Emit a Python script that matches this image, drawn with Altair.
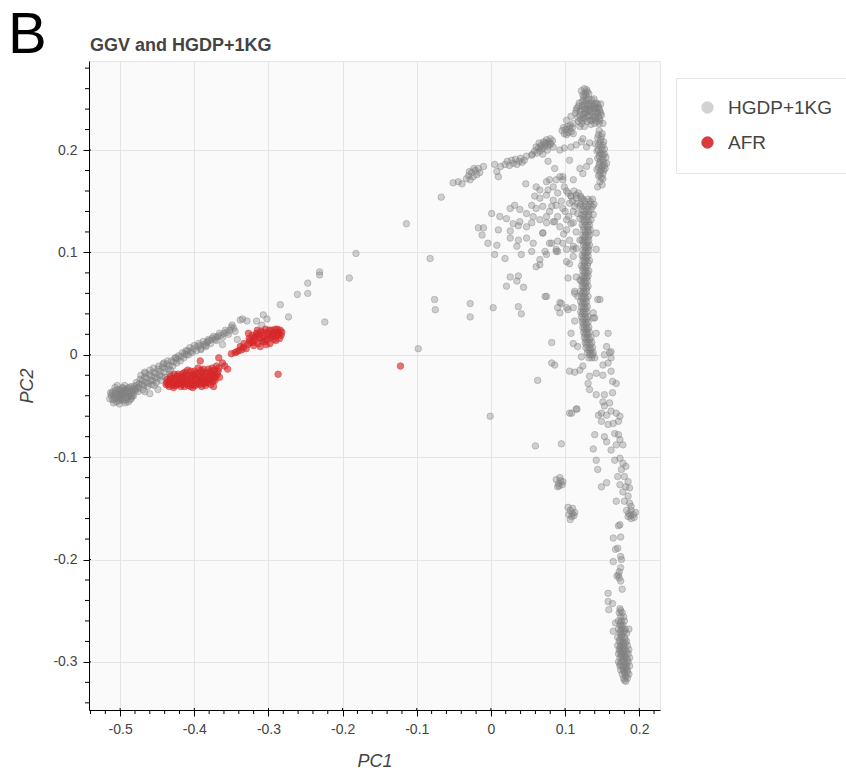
import altair as alt
import pandas as pd

# ---------------- data: (PC1, PC2) pairs per region of the projection ----------------

# HGDP+1KG reference samples
GRAY_AFRICA_CORE = [
    (-0.512, -0.040), (-0.510, -0.036), (-0.508, -0.043), (-0.506, -0.038), (-0.505, -0.046),
    (-0.503, -0.034), (-0.502, -0.041), (-0.500, -0.037), (-0.499, -0.044), (-0.497, -0.032),
    (-0.496, -0.040), (-0.494, -0.036), (-0.493, -0.047), (-0.491, -0.042), (-0.490, -0.033),
    (-0.488, -0.038), (-0.487, -0.044), (-0.485, -0.031), (-0.484, -0.036), (-0.482, -0.040),
    (-0.480, -0.034), (-0.514, -0.043), (-0.509, -0.047), (-0.504, -0.030), (-0.501, -0.048),
    (-0.498, -0.035), (-0.495, -0.045), (-0.492, -0.038), (-0.489, -0.046), (-0.486, -0.040),
    (-0.483, -0.033), (-0.478, -0.030), (-0.476, -0.036), (-0.507, -0.032), (-0.500, -0.042),
    (-0.494, -0.030), (-0.511, -0.038), (-0.508, -0.040), (-0.505, -0.042), (-0.503, -0.038),
    (-0.501, -0.035), (-0.499, -0.040), (-0.497, -0.043), (-0.495, -0.038), (-0.493, -0.034),
    (-0.491, -0.036), (-0.489, -0.041), (-0.487, -0.035), (-0.485, -0.043), (-0.483, -0.038),
    (-0.481, -0.031), (-0.479, -0.035), (-0.506, -0.035), (-0.502, -0.045), (-0.498, -0.038),
    (-0.496, -0.033), (-0.492, -0.044), (-0.488, -0.032), (-0.484, -0.041), (-0.510, -0.044),
    (-0.513, -0.037),
]

GRAY_AFRICA_BAND = [
    (-0.478, -0.027), (-0.475, -0.032), (-0.473, -0.024), (-0.471, -0.029), (-0.469, -0.034),
    (-0.467, -0.022), (-0.465, -0.027), (-0.463, -0.031), (-0.461, -0.019), (-0.459, -0.025),
    (-0.457, -0.029), (-0.455, -0.017), (-0.453, -0.022), (-0.451, -0.027), (-0.449, -0.014),
    (-0.447, -0.020), (-0.445, -0.025), (-0.443, -0.012), (-0.441, -0.017), (-0.439, -0.022),
    (-0.437, -0.009), (-0.435, -0.014), (-0.433, -0.019), (-0.431, -0.006), (-0.429, -0.011),
    (-0.426, -0.003), (-0.424, -0.008), (-0.421, -0.001), (-0.419, -0.006), (-0.416, 0.002),
    (-0.414, -0.003), (-0.411, 0.004), (-0.408, 0.000), (-0.406, 0.007), (-0.403, 0.002),
    (-0.400, 0.009), (-0.397, 0.004), (-0.394, 0.011), (-0.391, 0.006), (-0.388, 0.013),
    (-0.385, 0.009), (-0.381, 0.015), (-0.378, 0.011), (-0.374, 0.018), (-0.370, 0.014),
    (-0.366, 0.021), (-0.362, 0.017), (-0.358, 0.024), (-0.354, 0.020), (-0.350, 0.027),
    (-0.345, 0.023), (-0.467, -0.017), (-0.455, -0.013), (-0.441, -0.008), (-0.425, -0.003),
    (-0.411, 0.000), (-0.391, 0.005), (-0.449, -0.034), (-0.467, -0.036), (-0.460, -0.038),
    (-0.477, -0.033), (-0.474, -0.028), (-0.472, -0.020), (-0.470, -0.025), (-0.468, -0.030),
    (-0.466, -0.018), (-0.464, -0.023), (-0.462, -0.028), (-0.460, -0.015), (-0.458, -0.021),
    (-0.456, -0.025), (-0.454, -0.030), (-0.452, -0.018), (-0.450, -0.023), (-0.448, -0.011),
    (-0.446, -0.016), (-0.444, -0.021), (-0.442, -0.009), (-0.440, -0.013), (-0.436, -0.006),
    (-0.434, -0.011), (-0.432, -0.015), (-0.428, -0.007), (-0.423, -0.004), (-0.418, -0.002),
    (-0.413, 0.001), (-0.409, 0.004), (-0.405, 0.003), (-0.401, 0.006), (-0.396, 0.008),
    (-0.392, 0.009), (-0.387, 0.010), (-0.383, 0.012), (-0.379, 0.014), (-0.376, 0.016),
    (-0.372, 0.015), (-0.368, 0.018), (-0.364, 0.019), (-0.360, 0.021), (-0.356, 0.022),
    (-0.352, 0.024), (-0.347, 0.026),
]

GRAY_ARM_SPARSE = [
    (-0.362, 0.010), (-0.371, 0.017), (-0.382, 0.013), (-0.384, 0.008), (-0.342, 0.015),
    (-0.349, 0.029), (-0.338, 0.034), (-0.329, 0.033), (-0.316, 0.033), (-0.307, 0.039),
    (-0.309, 0.029), (-0.335, 0.035), (-0.302, 0.035), (-0.284, 0.049), (-0.273, 0.037),
    (-0.261, 0.059), (-0.247, 0.070), (-0.247, 0.060), (-0.231, 0.081), (-0.231, 0.078),
    (-0.224, 0.032), (-0.191, 0.075), (-0.182, 0.099), (-0.114, 0.128), (-0.067, 0.154),
    (-0.082, 0.094), (-0.076, 0.054), (-0.075, 0.044), (-0.028, 0.050), (-0.028, 0.037),
    (-0.098, 0.006), (-0.001, -0.060),
]

GRAY_TOP_BLOB = [
    (0.122, 0.258), (0.126, 0.260), (0.130, 0.257), (0.124, 0.254), (0.128, 0.253), (0.132, 0.255),
    (0.114, 0.236), (0.116, 0.241), (0.117, 0.232), (0.119, 0.246), (0.120, 0.238), (0.121, 0.230),
    (0.123, 0.243), (0.124, 0.235), (0.125, 0.249), (0.126, 0.240), (0.127, 0.231), (0.128, 0.246),
    (0.129, 0.237), (0.130, 0.228), (0.131, 0.243), (0.132, 0.250), (0.133, 0.234), (0.134, 0.240),
    (0.135, 0.246), (0.136, 0.229), (0.137, 0.237), (0.138, 0.243), (0.139, 0.250), (0.140, 0.233),
    (0.141, 0.240), (0.142, 0.246), (0.143, 0.228), (0.144, 0.236), (0.145, 0.242), (0.146, 0.231),
    (0.147, 0.238), (0.148, 0.245), (0.149, 0.234), (0.118, 0.228), (0.122, 0.226), (0.135, 0.225),
    (0.140, 0.226), (0.146, 0.226), (0.127, 0.236), (0.131, 0.239), (0.138, 0.231), (0.143, 0.241),
    (0.124, 0.229), (0.102, 0.229), (0.111, 0.226), (0.120, 0.223), (0.126, 0.223), (0.151, 0.226),
    (0.108, 0.233),
    (0.115, 0.239), (0.118, 0.243), (0.120, 0.234), (0.122, 0.240), (0.123, 0.247), (0.125, 0.232),
    (0.126, 0.244), (0.128, 0.240), (0.129, 0.249), (0.130, 0.233), (0.132, 0.245), (0.133, 0.238),
    (0.134, 0.229), (0.135, 0.243), (0.136, 0.249), (0.137, 0.233), (0.139, 0.240), (0.140, 0.245),
    (0.141, 0.230), (0.142, 0.237), (0.144, 0.245), (0.145, 0.233), (0.146, 0.240), (0.148, 0.236),
    (0.147, 0.229), (0.127, 0.256), (0.125, 0.252), (0.129, 0.259),
]

GRAY_TOP_SIDE = [
    (0.096, 0.219), (0.098, 0.222), (0.099, 0.216), (0.101, 0.220), (0.103, 0.223), (0.104, 0.217),
    (0.106, 0.221), (0.108, 0.218), (0.110, 0.222), (0.111, 0.216), (0.107, 0.224), (0.102, 0.215),
    (0.146, 0.219), (0.150, 0.216), (0.144, 0.212), (0.148, 0.210), (0.152, 0.208), (0.145, 0.205),
    (0.149, 0.203), (0.153, 0.201), (0.143, 0.199), (0.147, 0.197), (0.151, 0.195), (0.155, 0.193),
    (0.144, 0.192), (0.148, 0.190), (0.152, 0.188), (0.146, 0.186), (0.150, 0.184), (0.154, 0.182),
    (0.143, 0.181), (0.147, 0.179), (0.151, 0.177), (0.145, 0.175), (0.149, 0.173), (0.153, 0.196),
    (0.141, 0.206), (0.150, 0.200), (0.146, 0.194), (0.152, 0.180), (0.156, 0.187), (0.147, 0.169),
    (0.150, 0.166), (0.144, 0.164),
    (0.145, 0.215), (0.149, 0.213), (0.147, 0.207), (0.151, 0.205), (0.145, 0.200), (0.149, 0.196),
    (0.147, 0.188), (0.151, 0.191), (0.145, 0.183), (0.149, 0.181), (0.147, 0.176), (0.151, 0.172),
    (0.153, 0.185),
]

GRAY_UPPER_CHAIN = [
    (0.056, 0.196), (0.059, 0.199), (0.062, 0.197), (0.064, 0.202), (0.066, 0.199), (0.068, 0.205),
    (0.069, 0.201), (0.071, 0.208), (0.072, 0.203), (0.074, 0.206), (0.075, 0.210), (0.077, 0.204),
    (0.078, 0.208), (0.080, 0.211), (0.081, 0.206), (0.083, 0.209), (0.065, 0.207), (0.061, 0.203),
    (0.070, 0.196), (0.076, 0.200), (0.084, 0.203), (0.093, 0.200), (0.099, 0.202), (0.108, 0.203),
    (0.115, 0.205), (0.122, 0.208), (0.124, 0.211), (0.129, 0.203), (0.133, 0.207),
    (0.073, 0.207), (0.079, 0.206), (0.067, 0.203),
    (0.019, 0.186), (0.022, 0.189), (0.025, 0.185), (0.028, 0.190), (0.030, 0.187), (0.033, 0.191),
    (0.035, 0.186), (0.038, 0.189), (0.040, 0.192), (0.042, 0.188), (0.048, 0.194), (0.055, 0.195),
    (0.045, 0.190),
    (-0.033, 0.172), (-0.030, 0.175), (-0.028, 0.171), (-0.026, 0.178), (-0.024, 0.174),
    (-0.021, 0.180), (-0.019, 0.176), (-0.017, 0.182), (-0.015, 0.178), (-0.023, 0.182),
    (-0.029, 0.179), (-0.051, 0.168), (-0.039, 0.167), (-0.044, 0.169), (-0.010, 0.184),
    (0.008, 0.179), (0.010, 0.174), (0.005, 0.186), (0.013, 0.184),
]

GRAY_MIDDLE = [
    (0.047, 0.167), (0.061, 0.164), (0.066, 0.161), (0.075, 0.169), (0.077, 0.161), (0.084, 0.164),
    (0.088, 0.171), (0.093, 0.174), (0.097, 0.171), (0.099, 0.164),
    (0.059, 0.155), (0.066, 0.153), (0.075, 0.156), (0.084, 0.151), (0.090, 0.158), (0.102, 0.160),
    (0.108, 0.155), (0.115, 0.156), (0.122, 0.153),
    (0.055, 0.146), (0.061, 0.143), (0.070, 0.145), (0.079, 0.140), (0.088, 0.146), (0.097, 0.143),
    (0.106, 0.148), (0.111, 0.140), (0.120, 0.145),
    (0.026, 0.143), (0.032, 0.146), (0.039, 0.142), (0.048, 0.138), (0.057, 0.135), (0.066, 0.132),
    (0.075, 0.135), (0.084, 0.130), (0.093, 0.125), (0.102, 0.132), (0.111, 0.129), (0.120, 0.133),
    (0.102, 0.122),
    (0.001, 0.138), (0.012, 0.135), (0.021, 0.133), (0.030, 0.128), (0.039, 0.130), (0.048, 0.125),
    (0.055, 0.129),
    (-0.017, 0.124), (-0.010, 0.124), (-0.012, 0.117), (-0.004, 0.109), (0.008, 0.107), (0.010, 0.122),
    (0.026, 0.121), (0.037, 0.126), (0.026, 0.114), (0.037, 0.112), (0.048, 0.114), (0.057, 0.109),
    (0.070, 0.119), (0.079, 0.109), (0.088, 0.103), (0.097, 0.109), (0.106, 0.112), (0.111, 0.106),
    (0.120, 0.112),
    (0.005, 0.098), (0.019, 0.094), (0.035, 0.106), (0.041, 0.098), (0.055, 0.101), (0.066, 0.093),
    (0.075, 0.098), (0.088, 0.101), (0.102, 0.103), (0.111, 0.096), (0.066, 0.088), (0.061, 0.086),
    (0.026, 0.076), (0.037, 0.077), (0.035, 0.072), (0.044, 0.066), (0.021, 0.067), (0.075, 0.057),
    (0.102, 0.091),
    (0.095, 0.150), (0.100, 0.140), (0.105, 0.135), (0.113, 0.145), (0.117, 0.138), (0.108, 0.128),
    (0.115, 0.120), (0.098, 0.118), (0.090, 0.135), (0.082, 0.145),
    (0.077, 0.189), (0.086, 0.182), (0.106, 0.190), (0.120, 0.182), (0.124, 0.177), (0.133, 0.189),
    (0.129, 0.184), (0.097, 0.174), (0.111, 0.171), (0.079, 0.171),
    (0.070, 0.119), (0.075, 0.129), (0.086, 0.130), (0.082, 0.109), (0.090, 0.111), (0.090, 0.101),
    (0.073, 0.101), (0.111, 0.103), (0.115, 0.104), (0.106, 0.089), (0.104, 0.075), (0.115, 0.076),
    (0.113, 0.062), (0.117, 0.057), (0.120, 0.073), (0.073, 0.057), (0.090, 0.046), (0.095, 0.050),
    (0.093, 0.041), (0.102, 0.046), (0.111, 0.046), (0.113, 0.033), (0.108, 0.021), (0.082, 0.012),
    (0.111, 0.011), (0.117, 0.008), (0.122, -0.002),
    (0.003, 0.046), (0.037, 0.047), (0.041, 0.040), (0.093, 0.051), (0.104, 0.044), (0.113, 0.060),
    (0.063, -0.025), (0.060, -0.089), (0.095, -0.087), (0.106, -0.057), (0.116, -0.053),
    (0.082, -0.008), (0.086, -0.010), (0.106, -0.016), (0.113, -0.017), (0.120, -0.015),
    (0.124, -0.011),
]

GRAY_STREAM = [
    (0.124, 0.152), (0.131, 0.152), (0.137, 0.152),
    (0.121, 0.147), (0.128, 0.147), (0.134, 0.147), (0.139, 0.147),
    (0.123, 0.142), (0.129, 0.142), (0.135, 0.142),
    (0.122, 0.137), (0.127, 0.137), (0.132, 0.137), (0.138, 0.137),
    (0.124, 0.132), (0.129, 0.132), (0.135, 0.132),
    (0.123, 0.127), (0.128, 0.127), (0.133, 0.127),
    (0.125, 0.122), (0.130, 0.122), (0.134, 0.122),
    (0.124, 0.117), (0.128, 0.117), (0.133, 0.117),
    (0.123, 0.112), (0.127, 0.112), (0.132, 0.112),
    (0.125, 0.107), (0.129, 0.107), (0.133, 0.107),
    (0.124, 0.102), (0.128, 0.102), (0.132, 0.102),
    (0.123, 0.097), (0.127, 0.097), (0.131, 0.097),
    (0.124, 0.092), (0.128, 0.092), (0.133, 0.092),
    (0.122, 0.087), (0.126, 0.087), (0.130, 0.087),
    (0.124, 0.082), (0.128, 0.082), (0.132, 0.082),
    (0.123, 0.077), (0.127, 0.077), (0.131, 0.077),
    (0.122, 0.072), (0.126, 0.072), (0.130, 0.072),
    (0.123, 0.067), (0.127, 0.067), (0.131, 0.067),
    (0.121, 0.062), (0.125, 0.062), (0.129, 0.062),
    (0.122, 0.057), (0.126, 0.057), (0.131, 0.057),
    (0.121, 0.052), (0.125, 0.052), (0.129, 0.052),
    (0.122, 0.047), (0.126, 0.047), (0.130, 0.047),
    (0.121, 0.042), (0.125, 0.042), (0.129, 0.042),
    (0.122, 0.037), (0.127, 0.037), (0.131, 0.037),
    (0.123, 0.032), (0.127, 0.032), (0.131, 0.032),
    (0.124, 0.027), (0.128, 0.027), (0.132, 0.027),
    (0.125, 0.022), (0.129, 0.022), (0.133, 0.022),
    (0.126, 0.017), (0.130, 0.017), (0.135, 0.017),
    (0.127, 0.012), (0.131, 0.012), (0.136, 0.012),
    (0.128, 0.007), (0.133, 0.007), (0.137, 0.007),
    (0.130, 0.002), (0.134, 0.002), (0.138, 0.002),
    (0.132, -0.003), (0.136, -0.003), (0.140, -0.003),
    (0.104, 0.158), (0.108, 0.155), (0.112, 0.160), (0.115, 0.153), (0.118, 0.158), (0.121, 0.155),
    (0.110, 0.150), (0.116, 0.148),
    (0.126, 0.150), (0.134, 0.150), (0.125, 0.145), (0.131, 0.145), (0.137, 0.145),
    (0.126, 0.140), (0.132, 0.140), (0.125, 0.135), (0.131, 0.135), (0.126, 0.130),
    (0.132, 0.130), (0.125, 0.125), (0.131, 0.125), (0.127, 0.120), (0.132, 0.120),
    (0.126, 0.115), (0.131, 0.115), (0.125, 0.110), (0.130, 0.110), (0.127, 0.105),
    (0.131, 0.105), (0.126, 0.100), (0.130, 0.100), (0.125, 0.095), (0.129, 0.095),
    (0.126, 0.090), (0.131, 0.090), (0.124, 0.085), (0.128, 0.085), (0.126, 0.080),
    (0.130, 0.080), (0.125, 0.075), (0.129, 0.075), (0.124, 0.070), (0.128, 0.070),
    (0.125, 0.065), (0.129, 0.065), (0.123, 0.060), (0.127, 0.060), (0.124, 0.055),
    (0.128, 0.055), (0.123, 0.050), (0.127, 0.050), (0.124, 0.045), (0.128, 0.045),
    (0.123, 0.040), (0.127, 0.040), (0.124, 0.035), (0.129, 0.035), (0.125, 0.030),
    (0.129, 0.030), (0.126, 0.025), (0.130, 0.025), (0.127, 0.020), (0.131, 0.020),
    (0.128, 0.015), (0.133, 0.015), (0.129, 0.010), (0.134, 0.010), (0.131, 0.005),
    (0.135, 0.005), (0.133, 0.000), (0.137, 0.000),
]

GRAY_STREAM_SIDE = [
    (0.142, 0.119), (0.142, 0.103), (0.144, 0.054), (0.147, 0.054), (0.138, 0.041), (0.138, 0.036),
    (0.140, 0.036), (0.142, 0.021), (0.158, 0.021), (0.156, 0.008), (0.160, 0.002), (0.153, 0.000),
    (0.162, 0.003), (0.151, -0.010), (0.158, -0.008), (0.162, -0.003),
]

GRAY_LOWER_TRAIL = [
    (0.133, -0.021), (0.142, -0.018), (0.151, -0.020), (0.162, -0.016), (0.164, -0.026),
    (0.169, -0.028), (0.131, -0.028), (0.133, -0.034), (0.142, -0.039), (0.153, -0.039),
    (0.164, -0.037), (0.151, -0.046), (0.160, -0.047), (0.153, -0.050), (0.162, -0.055),
    (0.169, -0.057), (0.174, -0.060), (0.149, -0.057), (0.156, -0.059), (0.145, -0.059),
    (0.115, -0.053), (0.109, -0.057), (0.149, -0.065), (0.158, -0.068), (0.165, -0.067),
    (0.172, -0.065), (0.140, -0.078), (0.153, -0.080), (0.167, -0.077), (0.172, -0.078),
    (0.174, -0.083), (0.156, -0.085), (0.162, -0.093), (0.169, -0.088), (0.178, -0.088),
    (0.138, -0.092), (0.142, -0.103), (0.167, -0.103), (0.174, -0.101), (0.178, -0.106),
    (0.176, -0.112), (0.182, -0.109), (0.171, -0.119), (0.180, -0.119), (0.185, -0.124),
    (0.174, -0.127), (0.182, -0.129), (0.187, -0.130), (0.178, -0.134), (0.185, -0.138),
    (0.169, -0.143), (0.180, -0.143), (0.187, -0.145), (0.189, -0.148), (0.144, -0.112),
    (0.149, -0.129), (0.156, -0.125), (0.174, -0.166),
    (0.172, -0.167), (0.165, -0.179), (0.175, -0.178), (0.168, -0.190), (0.171, -0.189),
    (0.175, -0.197), (0.176, -0.200), (0.165, -0.202), (0.175, -0.208), (0.173, -0.212),
    (0.172, -0.215), (0.170, -0.216), (0.173, -0.218), (0.175, -0.221), (0.177, -0.229),
    (0.158, -0.233), (0.158, -0.241), (0.164, -0.243), (0.159, -0.249),
]

GRAY_LOWER_CLUSTERS = [
    (0.088, -0.122), (0.091, -0.126), (0.094, -0.123), (0.096, -0.127), (0.090, -0.129),
    (0.093, -0.120), (0.097, -0.124), (0.092, -0.128),
    (0.104, -0.149), (0.107, -0.152), (0.110, -0.150), (0.113, -0.154), (0.105, -0.156),
    (0.109, -0.158), (0.112, -0.157), (0.107, -0.161), (0.110, -0.155),
    (0.183, -0.152), (0.186, -0.155), (0.189, -0.152), (0.192, -0.156), (0.195, -0.154),
    (0.185, -0.158), (0.189, -0.160), (0.193, -0.159), (0.188, -0.157),
]

GRAY_BOTTOM_COLUMN = [
    (0.174, -0.248), (0.173, -0.252), (0.177, -0.252), (0.175, -0.256), (0.179, -0.256),
    (0.172, -0.260), (0.176, -0.260), (0.180, -0.260), (0.174, -0.264), (0.178, -0.264),
    (0.172, -0.268), (0.176, -0.268), (0.181, -0.268), (0.174, -0.272), (0.178, -0.272),
    (0.183, -0.272), (0.171, -0.276), (0.176, -0.276), (0.180, -0.276), (0.173, -0.280),
    (0.178, -0.280), (0.183, -0.280), (0.171, -0.284), (0.175, -0.284), (0.179, -0.284),
    (0.184, -0.284), (0.173, -0.288), (0.177, -0.288), (0.181, -0.288), (0.186, -0.288),
    (0.172, -0.292), (0.176, -0.292), (0.180, -0.292), (0.185, -0.292), (0.174, -0.296),
    (0.178, -0.296), (0.182, -0.296), (0.187, -0.296), (0.172, -0.300), (0.176, -0.300),
    (0.180, -0.300), (0.185, -0.300), (0.174, -0.304), (0.178, -0.304), (0.183, -0.304),
    (0.187, -0.304), (0.175, -0.308), (0.179, -0.308), (0.184, -0.308), (0.177, -0.312),
    (0.181, -0.312), (0.186, -0.312), (0.179, -0.316), (0.184, -0.316), (0.182, -0.319),
    (0.165, -0.270), (0.168, -0.262), (0.186, -0.268),
    (0.175, -0.250), (0.175, -0.262), (0.177, -0.266), (0.175, -0.270), (0.180, -0.270),
    (0.176, -0.274), (0.174, -0.278), (0.181, -0.278), (0.176, -0.282), (0.181, -0.282),
    (0.174, -0.286), (0.179, -0.286), (0.183, -0.290), (0.178, -0.290), (0.174, -0.290),
    (0.176, -0.294), (0.180, -0.294), (0.184, -0.298), (0.178, -0.298), (0.174, -0.302),
    (0.182, -0.302), (0.178, -0.306), (0.182, -0.306), (0.180, -0.310), (0.184, -0.310),
    (0.182, -0.314), (0.180, -0.318),
]

# AFR samples from GGV
AFR_MAIN = [
    (-0.438, -0.029), (-0.436, -0.024), (-0.434, -0.031), (-0.432, -0.021), (-0.430, -0.027),
    (-0.428, -0.032), (-0.426, -0.023), (-0.424, -0.029), (-0.422, -0.019), (-0.420, -0.026),
    (-0.418, -0.031), (-0.416, -0.022), (-0.414, -0.028), (-0.412, -0.017), (-0.410, -0.024),
    (-0.408, -0.030), (-0.406, -0.020), (-0.404, -0.026), (-0.402, -0.032), (-0.400, -0.016),
    (-0.398, -0.022), (-0.396, -0.028), (-0.394, -0.019), (-0.392, -0.025), (-0.390, -0.031),
    (-0.388, -0.014), (-0.386, -0.021), (-0.384, -0.027), (-0.382, -0.017), (-0.380, -0.023),
    (-0.378, -0.029), (-0.376, -0.013), (-0.374, -0.019), (-0.372, -0.025), (-0.370, -0.011),
    (-0.368, -0.016), (-0.366, -0.022), (-0.433, -0.025), (-0.427, -0.019), (-0.421, -0.023),
    (-0.419, -0.028), (-0.415, -0.025), (-0.411, -0.020), (-0.407, -0.027), (-0.403, -0.021),
    (-0.399, -0.025), (-0.397, -0.018), (-0.393, -0.029), (-0.389, -0.023), (-0.385, -0.018),
    (-0.383, -0.025), (-0.379, -0.020), (-0.375, -0.026), (-0.371, -0.021), (-0.425, -0.030),
    (-0.413, -0.031), (-0.401, -0.029), (-0.387, -0.028), (-0.377, -0.016), (-0.409, -0.015),
    (-0.395, -0.013),
    (-0.437, -0.027), (-0.435, -0.029), (-0.431, -0.023), (-0.429, -0.030), (-0.427, -0.026),
    (-0.423, -0.021), (-0.423, -0.027), (-0.417, -0.020), (-0.417, -0.029), (-0.413, -0.023),
    (-0.409, -0.028), (-0.405, -0.023), (-0.405, -0.031), (-0.401, -0.019), (-0.399, -0.030),
    (-0.397, -0.024), (-0.393, -0.021), (-0.391, -0.027), (-0.389, -0.017), (-0.387, -0.024),
    (-0.385, -0.030), (-0.381, -0.027), (-0.381, -0.014), (-0.378, -0.024), (-0.376, -0.020),
    (-0.373, -0.023), (-0.373, -0.015), (-0.369, -0.019), (-0.367, -0.013), (-0.415, -0.018),
    (-0.405, -0.016), (-0.391, -0.015),
]

AFR_UPPER = [
    (-0.350, 0.001), (-0.345, 0.002), (-0.338, 0.008), (-0.333, 0.011), (-0.330, 0.006),
    (-0.340, 0.004), (-0.334, 0.007), (-0.328, 0.010), (-0.326, 0.016), (-0.324, 0.012),
    (-0.322, 0.019), (-0.320, 0.009), (-0.318, 0.014), (-0.316, 0.021), (-0.314, 0.011),
    (-0.312, 0.017), (-0.310, 0.023), (-0.308, 0.013), (-0.306, 0.019), (-0.304, 0.025),
    (-0.302, 0.015), (-0.300, 0.021), (-0.298, 0.011), (-0.296, 0.024), (-0.294, 0.018),
    (-0.292, 0.022), (-0.290, 0.014), (-0.288, 0.025), (-0.286, 0.020), (-0.284, 0.024),
    (-0.285, 0.016), (-0.282, 0.022), (-0.319, 0.017), (-0.311, 0.008), (-0.303, 0.010),
    (-0.297, 0.017), (-0.315, 0.024), (-0.327, 0.021),
    (-0.325, 0.014), (-0.321, 0.012), (-0.317, 0.018), (-0.313, 0.020), (-0.309, 0.016),
    (-0.307, 0.022), (-0.305, 0.013), (-0.301, 0.018), (-0.299, 0.024), (-0.295, 0.020),
    (-0.293, 0.015), (-0.291, 0.025), (-0.289, 0.019), (-0.287, 0.022), (-0.283, 0.019),
    (-0.336, 0.005), (-0.343, 0.003),
]

AFR_OUTLIERS = [
    (-0.392, -0.006), (-0.367, -0.003), (-0.359, -0.011), (-0.355, -0.014), (-0.374, -0.031),
    (-0.362, -0.008), (-0.287, -0.019), (-0.122, -0.011),
]

GROUPS = ["HGDP+1KG", "AFR"]
GROUP_COLORS = ["#808080", "#d62728"]
GROUP_FILL_OPACITY = [0.5, 0.9]
GROUP_STROKE_OPACITY = [0.65, 0.95]

X_DOMAIN = [-0.542, 0.228]
Y_DOMAIN = [-0.347, 0.287]
X_MAJOR = [-0.5, -0.4, -0.3, -0.2, -0.1, 0.0, 0.1, 0.2]
Y_MAJOR = [-0.3, -0.2, -0.1, 0.0, 0.1, 0.2]
X_MINOR = [-0.54, -0.52, -0.48, -0.46, -0.44, -0.42, -0.38, -0.36, -0.34, -0.32,
           -0.28, -0.26, -0.24, -0.22, -0.18, -0.16, -0.14, -0.12, -0.08, -0.06,
           -0.04, -0.02, 0.02, 0.04, 0.06, 0.08, 0.12, 0.14, 0.16, 0.18, 0.22]
Y_MINOR = [-0.34, -0.32, -0.28, -0.26, -0.24, -0.22, -0.18, -0.16, -0.14, -0.12,
           -0.08, -0.06, -0.04, -0.02, 0.02, 0.04, 0.06, 0.08, 0.12, 0.14, 0.16,
           0.18, 0.22, 0.24, 0.26, 0.28]

PANEL_TAG = "B"
PANEL_TITLE = "GGV and HGDP+1KG"

# ---------------- tables ----------------
gray_parts = [GRAY_AFRICA_CORE, GRAY_AFRICA_BAND, GRAY_ARM_SPARSE, GRAY_TOP_BLOB,
              GRAY_TOP_SIDE, GRAY_UPPER_CHAIN, GRAY_MIDDLE, GRAY_STREAM,
              GRAY_STREAM_SIDE, GRAY_LOWER_TRAIL, GRAY_LOWER_CLUSTERS, GRAY_BOTTOM_COLUMN]
red_parts = [AFR_MAIN, AFR_UPPER, AFR_OUTLIERS]

rows = [(x, y, GROUPS[0]) for part in gray_parts for (x, y) in part]
rows += [(x, y, GROUPS[1]) for part in red_parts for (x, y) in part]
points_df = pd.DataFrame(rows, columns=["PC1", "PC2", "group"])

W, H = 571, 649
FONT = "Liberation Sans"
LABEL_EXPR = "toString(round(datum.value * 10) / 10)"

x_scale = alt.Scale(domain=X_DOMAIN, nice=False, zero=False)
y_scale = alt.Scale(domain=Y_DOMAIN, nice=False, zero=False)

# legend swatches carry the translucency of the points they stand for
swatch_opacity = "datum.value === '%s' ? %s : %s" % (GROUPS[1], GROUP_FILL_OPACITY[1], 0.35)

legend = alt.Legend(
    title=None, orient="none", legendX=587, legendY=17,
    fillColor="white", strokeColor="#e5e5e5", padding=20,
    labelFont=FONT, labelFontSize=19, labelColor="#444444",
    symbolType="circle", symbolSize=130, symbolStrokeWidth=1,
    labelOffset=11, rowPadding=15, symbolOffset=2,
    symbolOpacity=alt.ExprRef(expr=swatch_opacity),
)

points = alt.Chart(points_df).mark_circle(size=42, strokeWidth=1).encode(
    x=alt.X("PC1:Q", scale=x_scale, title="PC1",
            axis=alt.Axis(values=X_MAJOR, labelExpr=LABEL_EXPR)),
    y=alt.Y("PC2:Q", scale=y_scale, title="PC2",
            axis=alt.Axis(values=Y_MAJOR, labelExpr=LABEL_EXPR)),
    color=alt.Color("group:N", scale=alt.Scale(domain=GROUPS, range=GROUP_COLORS), legend=legend),
    stroke=alt.Stroke("group:N", scale=alt.Scale(domain=GROUPS, range=GROUP_COLORS), legend=legend),
    fillOpacity=alt.FillOpacity("group:N", scale=alt.Scale(domain=GROUPS, range=GROUP_FILL_OPACITY), legend=None),
    strokeOpacity=alt.StrokeOpacity("group:N", scale=alt.Scale(domain=GROUPS, range=GROUP_STROKE_OPACITY), legend=None),
)

# minor ticks and the inner stub of the major ticks
x_minor = alt.Chart(pd.DataFrame({"PC1": X_MINOR})).mark_rule(color="black", strokeWidth=1).encode(
    x=alt.X("PC1:Q", scale=x_scale), y=alt.value(H), y2=alt.value(H + 4))
y_minor = alt.Chart(pd.DataFrame({"PC2": Y_MINOR})).mark_rule(color="black", strokeWidth=1).encode(
    y=alt.Y("PC2:Q", scale=y_scale), x=alt.value(0), x2=alt.value(-4))
x_inner = alt.Chart(pd.DataFrame({"PC1": X_MAJOR})).mark_rule(color="black", strokeWidth=1).encode(
    x=alt.X("PC1:Q", scale=x_scale), y=alt.value(H - 2), y2=alt.value(H))
y_inner = alt.Chart(pd.DataFrame({"PC2": Y_MAJOR})).mark_rule(color="black", strokeWidth=1).encode(
    y=alt.Y("PC2:Q", scale=y_scale), x=alt.value(0), x2=alt.value(2))

# panel letter and panel heading, drawn above the plot area
panel_tag = alt.Chart(pd.DataFrame({"tag": [PANEL_TAG]})).mark_text(
    font=FONT, fontSize=58, color="black", align="left", baseline="alphabetic"
).encode(text="tag:N", x=alt.value(-81), y=alt.value(-8))
panel_title = alt.Chart(pd.DataFrame({"heading": [PANEL_TITLE]})).mark_text(
    font=FONT, fontSize=18, fontWeight="bold", color="#444444", align="left", baseline="alphabetic"
).encode(text="heading:N", x=alt.value(1), y=alt.value(-10))

chart = alt.layer(points, x_minor, y_minor, x_inner, y_inner, panel_tag, panel_title).properties(
    width=W, height=H,
    autosize=alt.AutoSizeParams(type="none"),
    padding={"left": 89, "top": 61, "right": 186, "bottom": 62},
).configure_view(
    fill="#fafafa", stroke="#e5e5e5", strokeWidth=1,
).configure_axis(
    domainColor="black", domainWidth=1, tickColor="black", tickSize=6, tickWidth=1,
    labelFont=FONT, labelFontSize=14, labelColor="#444444", labelPadding=6,
    titleFont=FONT, titleFontSize=18, titleFontStyle="italic", titleFontWeight="normal",
    titleColor="#444444", gridColor="#e5e5e5", gridWidth=1,
).configure_axisX(titlePadding=16).configure_axisY(titlePadding=16)

chart.save("out.html", embed_options={"renderer": "svg", "actions": False})
